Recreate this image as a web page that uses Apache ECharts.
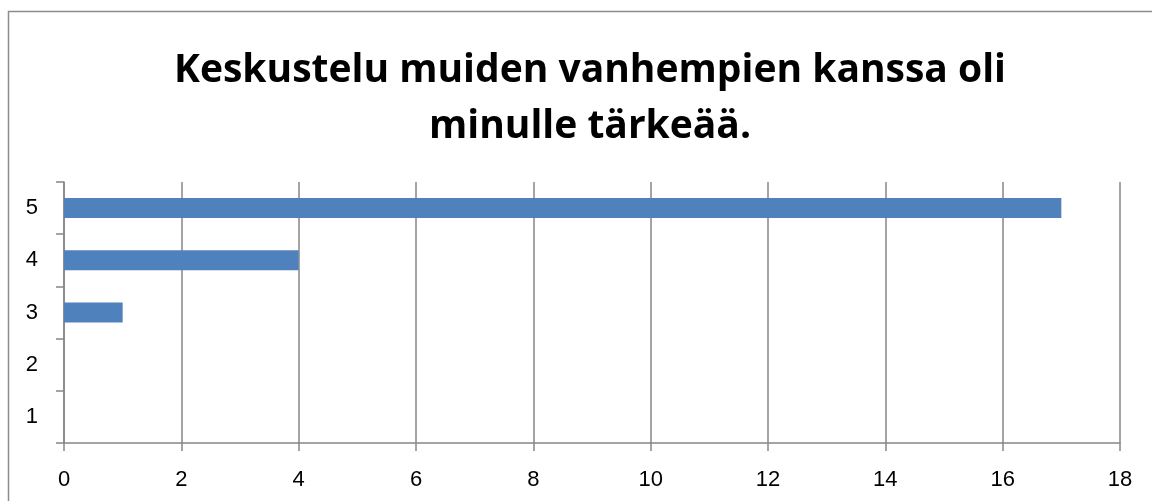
<!DOCTYPE html>
<html>
<head>
<meta charset="utf-8">
<script src="https://cdn.jsdelivr.net/npm/echarts@6/dist/echarts.min.js"></script>
<style>
  html, body { margin: 0; padding: 0; background: #fff; }
  #main { width: 1152px; height: 501px; }
</style>
</head>
<body>
<div id="main"></div>
<script>
var categories = ['1', '2', '3', '4', '5'];
var values = [0, 0, 1, 4, 17];
var titleText = 'Keskustelu muiden vanhempien kanssa oli\nminulle tärkeää.';

var myChart = echarts.init(document.getElementById('main'));
var option = {
    animation: false,
    backgroundColor: '#fff',
    title: {
        text: titleText,
        left: 585,
        textAlign: 'center',
        top: 38,
        textStyle: {
            fontFamily: 'Open Sans',
            fontWeight: 'bold',
            fontSize: 39,
            lineHeight: 56,
            color: '#000'
        }
    },
    graphic: [{
        type: 'rect',
        shape: { x: 8.5, y: 11.5, width: 1160, height: 500 },
        style: { fill: 'none', stroke: '#8c8c8c', lineWidth: 1.5 },
        silent: true
    }],
    grid: { left: 64, right: 32, top: 182, bottom: 58 },
    xAxis: {
        type: 'value',
        min: 0,
        max: 18,
        interval: 2,
        axisLine: { show: true, lineStyle: { color: '#868686', width: 1.5 } },
        axisTick: { show: true, length: 8, lineStyle: { color: '#868686', width: 1.5 } },
        axisLabel: { fontFamily: 'Liberation Sans', fontSize: 22, color: '#000', margin: 26 },
        splitLine: { show: true, lineStyle: { color: '#868686', width: 1.5 } }
    },
    yAxis: {
        type: 'category',
        data: categories,
        axisLine: { show: true, lineStyle: { color: '#868686', width: 1.5 } },
        axisTick: { show: true, length: 8, lineStyle: { color: '#868686', width: 1.5 } },
        axisLabel: { fontFamily: 'Liberation Sans', fontSize: 22, color: '#000', margin: 26 },
        splitLine: { show: false }
    },
    series: [{
        type: 'bar',
        data: values,
        barWidth: 20,
        itemStyle: { color: '#4f81bd' }
    }]
};
myChart.setOption(option);
</script>
</body>
</html>
